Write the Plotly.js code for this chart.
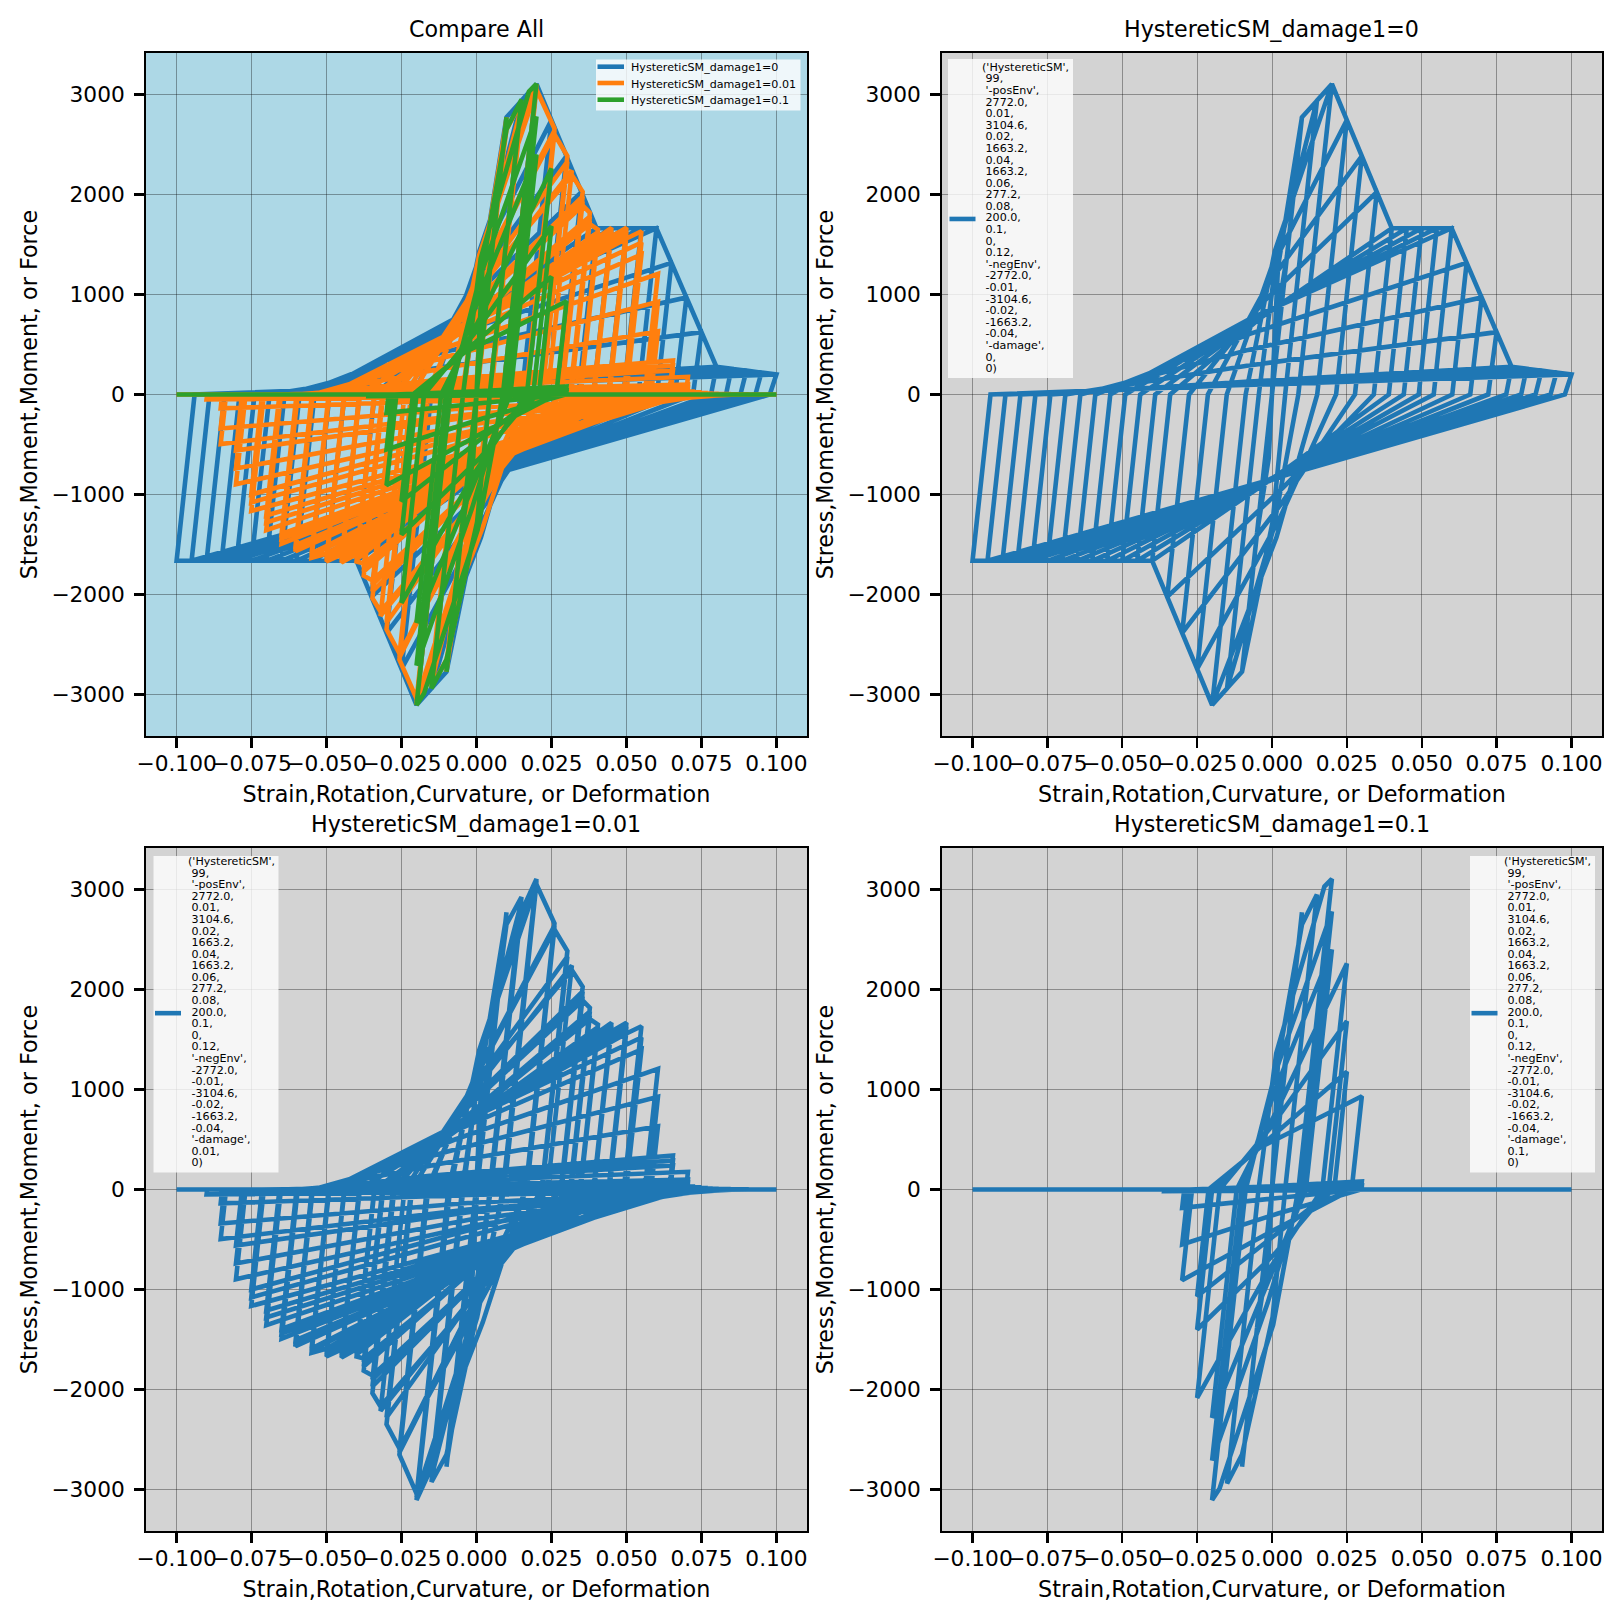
<!DOCTYPE html>
<html>
<head>
<meta charset="utf-8">
<script src="https://cdn.plot.ly/plotly-3.0.1.min.js"></script>
<style>html,body{margin:0;padding:0;background:#fff}</style>
</head>
<body>
<div id="chart" style="width:1623px;height:1622px"></div>
<script>
// ---- values ----
const seriesNames = ["HystereticSM_damage1=0", "HystereticSM_damage1=0.01", "HystereticSM_damage1=0.1"];
const seriesColors = ["#1f77b4", "#ff7f0e", "#2ca02c"];
const xTicks = [-0.1, -0.075, -0.05, -0.025, 0, 0.025, 0.05, 0.075, 0.1];
const yTicks = [-3000, -2000, -1000, 0, 1000, 2000, 3000];

const strainD0 = [
 0,.005,-.005,
 0,.001,.005,.01,
 0,-.0011,-.005,-.01,
 0,.002,.01,.015,
 .0044,.0002,-.01,-.015,
 -.0044,.0014,.015,.02,
 .0088,.0004,-.015,-.02,
 -.0088,.0009,.02,.025,
 .0151,.0015,-.02,-.025,
 -.0151,-.0003,.025,.03,
 .0214,.0022,-.025,-.03,
 -.0214,-.0015,.03,.035,
 .0277,.003,-.03,-.035,
 -.0277,-.0027,.035,.04,
 .034,.0037,-.035,-.04,
 -.034,-.0039,.04,.045,
 .039,.0037,-.04,-.045,
 -.039,-.0047,.045,.05,
 .044,.004,-.045,-.05,
 -.044,-.0054,.05,.055,
 .049,.0044,-.05,-.055,
 -.049,-.0062,.055,.06,
 .054,.0047,-.055,-.06,
 -.054,-.0069,.06,.065,
 .0602,.0057,-.06,-.065,
 -.059,-.0074,.065,.07,
 .0662,.0065,-.065,-.07,
 -.064,-.0079,.07,.075,
 .0722,.0074,-.07,-.075,
 -.069,-.0084,.075,.08,
 .0782,.0083,-.075,-.08,
 -.074,-.009,.08,.085,
 .0832,.0086,-.08,-.085,
 -.079,-.0097,.085,.09,
 .088,.0089,-.085,-.09,
 -.084,-.0105,.09,.095,
 .093,.0092,-.09,-.095,
 -.089,-.0112,.095,.1,
 .0978,.0094,-.095,-.1,
 -.094,-.0121,.1
];
const stressD0 = [
 0,1386,-1386,
 0,638,1386,2772,
 0,-638,-1386,-2772,
 0,1275,2772,2938,
 0,-1275,-2772,-2938,
 0,1351,2938,3105,
 0,-1351,-2938,-3105,
 0,1428,3105,2744,
 0,-1428,-3105,-2744,
 0,1262,2744,2384,
 0,-1262,-2744,-2384,
 0,1097,2384,2024,
 0,-1097,-2384,-2024,
 0,931,2024,1663,
 0,-931,-2024,-1663,
 0,765,1663,1663,
 0,-765,-1663,-1663,
 0,765,1663,1663,
 0,-765,-1663,-1663,
 0,765,1663,1663,
 0,-765,-1663,-1663,
 0,765,1663,1663,
 0,-765,-1663,-1663,
 0,765,1663,1317,
 0,-765,-1663,-1663,
 0,606,1317,970,
 0,-765,-1663,-1663,
 0,446,970,624,
 0,-765,-1663,-1663,
 0,287,624,277,
 0,-765,-1663,-1663,
 0,127,277,258,
 0,-765,-1663,-1663,
 0,119,258,239,
 0,-765,-1663,-1663,
 0,110,239,219,
 0,-765,-1663,-1663,
 0,101,219,200,
 0,-765,-1663,-1663,
 0,92,200
];

const strainD001 = [
 0,.005,-.005,
 0,.001,.005,.01,
 0,-.0011,-.005,-.01,
 0,.002,.01,
 .0001,-.0021,-.01,
 -.0001,.0019,.01,
 .0002,-.002,-.01,
 -.0002,.0038,.01,.015,
 .0044,.0002,-.01,-.015,
 -.0044,.0015,.015,
 .0046,-.0019,-.015,
 -.0046,.0014,.015,
 .0048,-.0019,-.015,
 -.0048,.0013,.015,.02,
 .0088,.0002,-.015,-.02,
 -.0088,.0009,.02,
 .0091,-.0017,-.02,
 -.0091,.0008,.02,
 .0093,-.0016,-.02,
 -.0094,.0006,.02,.026,
 .0164,.0021,-.02,-.0257,
 -.0161,-.0003,.026,
 .0166,-.0007,-.0257,
 -.0164,-.0004,.026,
 .0168,-.0007,-.0257,
 -.0166,-.0006,.026,.0303,
 .0217,.0019,-.0257,-.03,
 -.0215,-.0014,.0303,
 .0219,-.0001,-.03,
 -.0218,-.0009,.0318,
 .0237,.0007,-.032,
 -.024,-.0021,.0318,.0354,
 .0281,.0021,-.032,-.0347,
 -.0274,-.0023,.0354,
 .0283,.0008,-.0347,
 -.0276,-.0024,.0354,
 .0284,.0008,-.0347,
 -.0278,-.0026,.0354,.0378,
 .0312,.0023,-.0347,-.0376,
 -.0311,-.0033,.0378,
 .0314,.0009,-.0376,
 -.0312,-.0033,.0378,
 .0315,.001,-.0376,
 -.0314,-.0034,.0378,.0405,
 .0345,.0026,-.0376,-.04,
 -.034,-.0037,.0405,
 .0346,.0013,-.04,
 -.034,-.0037,.0405,
 .0347,.0014,-.04,
 -.0341,-.0038,.0405,.045,
 .039,.0037,-.04,-.045,
 -.0389,-.0046,.045,
 .0391,.003,-.045,
 -.039,-.0046,.045,
 .0392,.004,-.045,
 -.0391,-.0046,.045,.05,
 .044,.0056,-.045,-.05,
 -.044,-.0054,.05,
 .0441,.0062,-.05,
 -.0441,-.0055,.05,
 .0443,.0068,-.05,
 -.0441,-.0056,.05,.055,
 .0491,.0075,-.05,-.055,
 -.0491,-.0062,.055,
 .0495,.0085,-.055,
 -.0492,-.0068,.055,
 .0499,.0095,-.055,
 -.0493,-.0072,.0605,
 .0561,.0105,-.0603,
 -.0546,-.0096,.0605,
 .0572,.0116,-.0603,
 -.0548,-.0125,.0605,
 .0582,.0116,-.0603,
 -.0549,-.0156,.0655,
 .0643,.0116,-.065,
 -.0596,-.0165,.0655,
 .0645,.0114,-.065,
 -.0598,-.0165,.0655,
 .0646,.0112,-.065,
 -.06,-.0175,.0705,
 .0699,.011,-.0701,
 -.0652,-.018,.0705,
 .0701,.0108,-.0701,
 -.0655,-.018,.0705,
 .0703,.0106,-.0701,
 -.0657,-.018,.072,
 .0718,.0105,-.0751,
 -.0709,-.019,.074,
 .0738,.0105,-.0751,
 -.0712,-.019,.076,
 .0758,.0105,-.0751,
 -.0715,-.02,.078,
 .078,-.001,-.0802,
 -.077,-.02,.08,
 .08,-.002,-.0802,
 -.0775,-.02,.082,
 .082,-.002,-.0802,
 -.0782,-.02,.084,
 .084,-.003,-.0853,
 -.0835,-.02,.086,
 .086,-.003,-.0853,
 -.0841,-.02,.088,
 .088,-.003,-.0853,
 -.0848,-.02,.09,
 .09,-.003,-.09,
 -.0898,.1,-.1
];
const stressD001 = [
 0,1386,-1386,
 0,638,1386,2772,
 0,-638,-1386,-2772,
 0,1260,2740,
 0,-1260,-2740,
 0,1245,2705,
 0,-1245,-2705,
 0,1240,2650,2925,
 0,-1245,-2650,-2925,
 0,1322,2875,
 0,-1322,-2875,
 0,1300,2825,
 0,-1300,-2825,
 0,1280,2780,3105,
 0,-1280,-2780,-3105,
 0,1394,3085,
 0,-1390,-3080,
 0,1362,3065,
 0,-1355,-3060,
 0,1334,3050,2660,
 0,-1327,-3040,-2652,
 0,1148,2640,
 0,-1140,-2630,
 0,1126,2620,
 0,-1113,-2610,
 0,1104,2600,2384,
 0,-1092,-2590,-2348,
 0,1025,2330,
 0,-1033,-2280,
 0,986,2240,
 0,-1003,-2214,
 0,986,2195,2027,
 0,-974,-2170,-2036,
 0,871,1980,
 0,-896,-1970,
 0,849,1930,
 0,-867,-1900,
 0,832,1890,1817,
 0,-836,-1860,-1812,
 0,730,1780,
 0,-743,-1770,
 0,713,1740,
 0,-726,-1725,
 0,700,1705,1650,
 0,-708,-1690,-1670,
 0,665,1625,
 0,-670,-1650,
 0,656,1600,
 0,-660,-1625,
 0,650,1570,1667,
 0,-648,-1595,-1679,
 0,667,1640,
 0,-640,-1655,
 0,650,1610,
 0,-630,-1630,
 0,640,1580,1667,
 0,-625,-1600,-1670,
 0,665,1630,
 0,-622,-1650,
 0,650,1590,
 0,-620,-1625,
 0,640,1560,1633,
 0,-618,-1590,-1634,
 0,652,1520,
 0,-612,-1612,
 0,590,1400,
 0,-607,-1590,
 0,500,1207,
 0,-604,-1567,
 0,380,927,
 0,-600,-1535,
 0,255,633,
 0,-595,-1505,
 0,137,340,
 0,-590,-1491,
 0,116,290,
 0,-575,-1440,
 0,96,240,
 0,-560,-1395,
 0,71,177,
 0,-540,-1357,
 0,40,100,
 0,-515,-1280,
 0,28,70,
 0,-490,-1210,
 0,22,30,
 0,-465,-1165,
 0,16,20,
 0,-360,-1080,
 0,12,14,
 0,-300,-1000,
 0,9,10,
 0,-360,-897,
 0,6,7,
 0,-300,-740,
 0,5,5,
 0,-225,-560,
 0,4,4,
 0,-200,-495,
 0,2,3,
 0,-135,-340,
 0,2,2,
 0,-55,-138,
 0,1,1,
 0,-20,-49,
 0,0,0
];

const strainD01 = [
 0,.005,-.005,
 0,.001,.005,.01,
 0,-.0011,-.005,-.01,
 0,.002,.01,.015,
 .0044,.0002,-.01,-.015,
 -.0045,.0014,.0175,.02,
 .0088,.0004,-.0175,-.02,
 -.0088,.0011,.02,
 .01,-.0015,-.02,
 -.0102,.0006,.02,
 .0113,-.0012,-.02,
 -.0118,.002,.025,
 .0168,-.0008,-.025,
 -.0175,-.0008,.025,
 .0189,.001,-.025,
 -.02,-.002,.025,
 .0208,.0004,-.025,
 -.0212,-.004,.03,
 .0266,.001,-.03,
 -.0267,-.002,.03,
 .0297,.002,-.03,
 -.028,-.002,.03,
 .0298,.002,-.03,
 -.0293,-.002,.03,
 .03,.002,-.036,
 -.0359,-.002,.03,
 .03,.1,-.1
];
const stressD01 = [
 0,1386,-1386,
 0,638,1386,2772,
 0,-638,-1386,-2772,
 0,1275,2650,2950,
 0,-1275,-2650,-2940,
 0,1360,3030,3105,
 0,-1351,-2990,-3105,
 0,1168,2780,
 0,-1138,-2710,
 0,960,2400,
 0,-913,-2283,
 0,814,2260,
 0,-792,-2083,
 0,606,1683,
 0,-640,-1400,
 0,480,1177,
 0,-470,-1067,
 0,420,933,
 0,-400,-907,
 0,30,80,
 0,-240,-550,
 0,15,40,
 0,-85,-183,
 0,8,20,
 0,-10,-17,
 0,5,15,
 0,0,0
];

const xLabel = "Strain,Rotation,Curvature, or Deformation";
const yLabel = "Stress,Moment,Moment, or Force";
const panelTitles = ["Compare All", seriesNames[0], seriesNames[1], seriesNames[2]];

const legendHead = ["('HystereticSM',", "\u00a099,", "\u00a0'-posEnv',", "\u00a02772.0,", "\u00a00.01,", "\u00a03104.6,",
  "\u00a00.02,", "\u00a01663.2,", "\u00a00.04,", "\u00a01663.2,", "\u00a00.06,", "\u00a0277.2,", "\u00a00.08,", "\u00a0200.0,",
  "\u00a00.1,", "\u00a00,", "\u00a00.12,", "\u00a0'-negEnv',", "\u00a0-2772.0,", "\u00a0-0.01,", "\u00a0-3104.6,", "\u00a0-0.02,",
  "\u00a0-1663.2,", "\u00a0-0.04,", "\u00a0'-damage',"];
const legendDamage = ["0", "0.01", "0.1"];

// ---- page geometry ----
const W = 1623, H = 1622;
const px = v => v / W, py = v => 1 - v / H;
const FONT = '"DejaVu Sans", sans-serif';
const panels = [
  {l: 146, r: 807, t: 53, b: 736, bg: "#ADD8E6"},
  {l: 942, r: 1602, t: 53, b: 736, bg: "#D3D3D3"},
  {l: 146, r: 807, t: 848, b: 1531, bg: "#D3D3D3"},
  {l: 942, r: 1602, t: 848, b: 1531, bg: "#D3D3D3"}
];

const lw = 4.6;
function tr(x, y, color, n, name) {
  return {x, y, type: "scatter", mode: "lines", name, showlegend: false, hoverinfo: "skip",
    xaxis: "x" + (n === 1 ? "" : n), yaxis: "y" + (n === 1 ? "" : n),
    line: {color, width: lw, simplify: false}};
}
const data = [
  tr(strainD0, stressD0, seriesColors[0], 1, seriesNames[0]),
  tr(strainD001, stressD001, seriesColors[1], 1, seriesNames[1]),
  tr(strainD01, stressD01, seriesColors[2], 1, seriesNames[2]),
  tr(strainD0, stressD0, seriesColors[0], 2, seriesNames[0]),
  tr(strainD001, stressD001, seriesColors[0], 3, seriesNames[1]),
  tr(strainD01, stressD01, seriesColors[0], 4, seriesNames[2])
];

const layout = {
  width: W, height: H, margin: {l: 0, r: 0, t: 0, b: 0},
  paper_bgcolor: "#fff", showlegend: false,
  font: {family: FONT, size: 22, color: "#000"},
  annotations: [], shapes: []
};

const gridC = "rgba(0,0,0,0.38)";
panels.forEach((p, i) => {
  const s = i === 0 ? "" : String(i + 1);
  layout["xaxis" + s] = {
    domain: [px(p.l), px(p.r)], range: [-0.1102, 0.1102], anchor: "y" + s,
    tickmode: "array", tickvals: xTicks, tickformat: ".3f", tickangle: 0,
    ticks: "outside", ticklen: 9.7, tickwidth: 2.2, tickcolor: "#000", ticklabelstandoff: -3,
    showline: true, mirror: true, linecolor: "#000", linewidth: 2.2,
    showgrid: true, gridcolor: gridC, gridwidth: 0.9, zeroline: false,
    tickfont: {family: FONT, size: 21.7, color: "#000"},
    title: {text: xLabel, standoff: 12, font: {family: FONT, size: 22.3, color: "#000"}}
  };
  layout["yaxis" + s] = {
    domain: [py(p.b), py(p.t)], range: [-3415, 3415], anchor: "x" + s,
    tickmode: "array", tickvals: yTicks, tickangle: 0,
    ticks: "outside", ticklen: 9.7, tickwidth: 2.2, tickcolor: "#000", ticklabelstandoff: 5,
    showline: true, mirror: true, linecolor: "#000", linewidth: 2.2,
    showgrid: true, gridcolor: gridC, gridwidth: 0.9, zeroline: false,
    tickfont: {family: FONT, size: 21.7, color: "#000"},
    title: {text: yLabel, standoff: 8, font: {family: FONT, size: 22.3, color: "#000"}}
  };
  // panel background
  layout.shapes.push({type: "rect", xref: "paper", yref: "paper", layer: "below",
    x0: px(p.l), x1: px(p.r), y0: py(p.b), y1: py(p.t), fillcolor: p.bg, line: {width: 0}});
  // panel title
  layout.annotations.push({xref: "paper", yref: "paper", x: px((p.l + p.r) / 2 - 0.5), y: py(p.t - 24),
    text: panelTitles[i], showarrow: false, xanchor: "center", yanchor: "middle", borderpad: 0,
    font: {family: FONT, size: 22.2, color: "#000"}});
});

function legendText(x, y, text) {
  layout.annotations.push({xref: "paper", yref: "paper", x: px(x), y: py(y), text, showarrow: false,
    xanchor: "left", yanchor: "middle", borderpad: 0, align: "left",
    font: {family: FONT, size: 11.1, color: "#000"}});
}
function legendBox(l, r, t, b) {
  layout.shapes.push({type: "rect", xref: "paper", yref: "paper", layer: "above",
    x0: px(l), x1: px(r), y0: py(b), y1: py(t), fillcolor: "rgba(255,255,255,0.8)", line: {width: 0}});
}
function legendKey(l, r, y, color) {
  layout.shapes.push({type: "line", xref: "paper", yref: "paper", layer: "above",
    x0: px(l), x1: px(r), y0: py(y), y1: py(y), line: {color, width: lw}});
}

// top-left legend
legendBox(596, 800.5, 59.5, 110.5);
[66.7, 83, 99.7].forEach((y, i) => {
  legendKey(597.5, 624, y, seriesColors[i]);
  legendText(630, y + 1, seriesNames[i]);
});
// parameter legends
const paramLegends = [
  {l: 948, t: 59, b: 378, first: 67.3, dmg: 0},
  {l: 153.5, t: 856, b: 1172.6, first: 861.5, dmg: 1},
  {l: 1470, t: 856, b: 1172.6, first: 861.5, dmg: 2}
];
paramLegends.forEach(g => {
  legendBox(g.l, g.l + 125, g.t, g.b);
  const lines = legendHead.concat(["\u00a0" + legendDamage[g.dmg] + ",", "\u00a00)"]);
  lines.forEach((t, i) => legendText(g.l + 33, g.first + i * 11.59, t));
  legendKey(g.l + 1.5, g.l + 27.5, g.first + 13 * 11.59 + 1, seriesColors[0]);
});

Plotly.newPlot("chart", data, layout, {displayModeBar: false, staticPlot: true});
</script>
</body>
</html>
